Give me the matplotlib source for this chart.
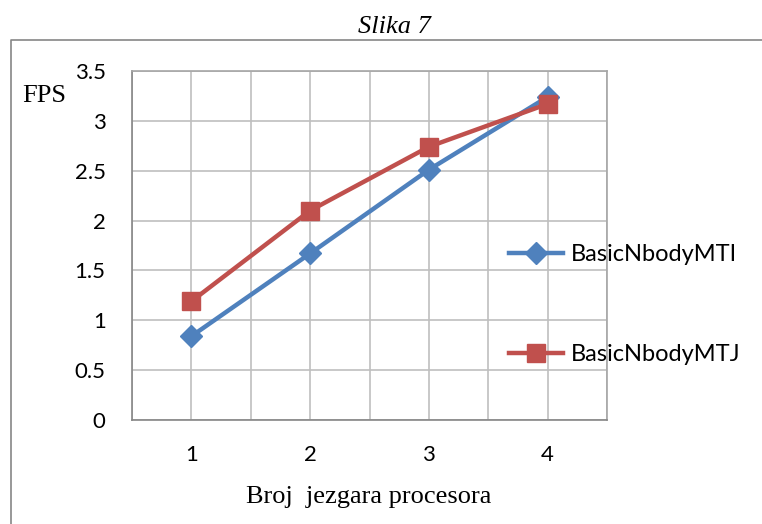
import matplotlib
matplotlib.use('Agg')
import matplotlib.pyplot as plt
from matplotlib.lines import Line2D
import numpy as np

# Data
cores = [1, 2, 3, 4]
fps_mti = [0.84, 1.67, 2.51, 3.24]
fps_mtj = [1.19, 2.10, 2.74, 3.17]
y_ticks = [0, 0.5, 1, 1.5, 2, 2.5, 3, 3.5]
y_tick_labels = ['0', '0.5', '1', '1.5', '2', '2.5', '3', '3.5']

W, H = 762, 524
fig = plt.figure(figsize=(W / 100, H / 100), dpi=100)

# plot area in pixels: left 132, right 607, top 71, bottom 420
ax = fig.add_axes([132 / W, 1 - 420 / H, (607 - 132) / W, (420 - 71) / H])

blue = '#4F81BD'
red = '#C0504D'
ax.plot(cores, fps_mti, color=blue, lw=3.2, marker='D', ms=11,
        label='BasicNbodyMTI', zorder=3)
ax.plot(cores, fps_mtj, color=red, lw=3.2, marker='s', ms=13,
        label='BasicNbodyMTJ', zorder=4)

ax.set_xlim(0.5, 4.5)
ax.set_ylim(0, 3.5)
ax.set_xticks(cores)
ax.set_xticks(np.arange(0.5, 4.6, 0.5), minor=True)
ax.set_yticks(y_ticks)
ax.set_yticklabels(y_tick_labels)
ax.grid(True, which='both', axis='x', color='#BFBFBF', lw=1.2)
ax.grid(True, which='major', axis='y', color='#BFBFBF', lw=1.2)
ax.set_axisbelow(True)
ax.tick_params(which='both', length=0)
ax.tick_params(axis='x', pad=18)
ax.tick_params(axis='y', pad=19)
for lab in ax.get_xticklabels() + ax.get_yticklabels():
    lab.set_fontfamily('Lato')
    lab.set_fontsize(16)
for sp in ax.spines.values():
    sp.set_color('#A6A6A6')
    sp.set_linewidth(1.2)
ax.spines['left'].set_color('#868686')
ax.spines['bottom'].set_color('#868686')

leg = fig.legend(loc='upper left', bbox_to_anchor=(509 / W, 1 - 244 / H),
                 frameon=False, numpoints=1, handlelength=2.3,
                 handletextpad=0.3, labelspacing=3.35, borderpad=0,
                 borderaxespad=0, prop={'family': 'Lato', 'size': 17})

fig.text(394 / W, 1 - 27 / H, 'Slika 7', ha='center', va='center',
         family='Liberation Serif', style='italic', fontsize=19)
fig.text(369 / W, 1 - 497 / H, 'Broj  jezgara procesora', ha='center',
         va='center', family='Liberation Serif', fontsize=19)
fig.text(22 / W, 1 - 96 / H, 'FPS', ha='left', va='center',
         family='Liberation Serif', fontsize=19)

# outer chart border (open to the right and bottom)
fig.add_artist(Line2D([11 / W, 11 / W, 1], [0, 1 - 40 / H, 1 - 40 / H],
                      transform=fig.transFigure, color='#868686', lw=1.2))

fig.savefig('out.png', dpi=100)
